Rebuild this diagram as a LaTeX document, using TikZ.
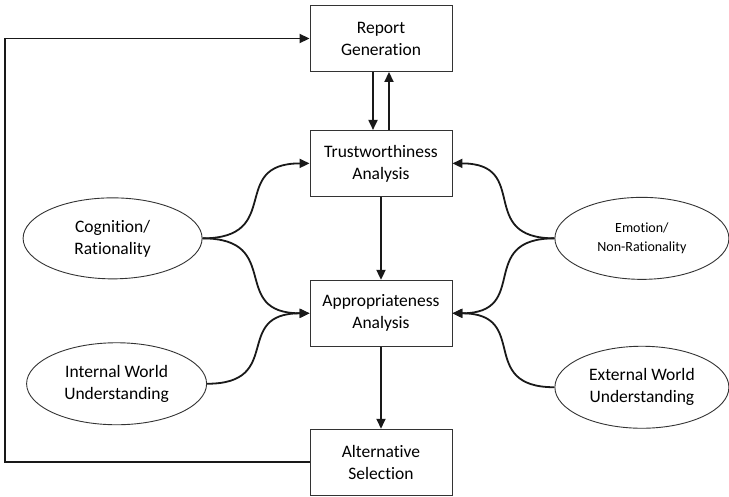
\documentclass[tikz,border=0pt]{standalone}
\usepackage{fontspec}
\setmainfont{Carlito}[Ligatures=NoCommon]
\usetikzlibrary{arrows.meta,positioning,shapes.geometric,calc}
\tikzset{
  stage/.style={draw=black!80,line width=0.9pt,minimum width=142pt,minimum height=66pt,
    align=center,inner sep=2pt,font=\fontsize{17.5}{22}\selectfont},
  factor/.style={ellipse,draw=black!80,line width=0.9pt,inner sep=0pt,align=center,
    font=\fontsize{17.5}{22}\selectfont},
  flow/.style={-{Triangle[length=10pt,width=9pt]},line width=1.8pt,draw=black!90},
  sbendL/.style={out=0,in=180,looseness=1.6},
  sbendR/.style={out=180,in=0,looseness=1.6}
}

\begin{document}
\begin{tikzpicture}[x=1pt,y=-1pt]
  \useasboundingbox (0,0) rectangle (729,496);
  % main column
  \node[stage] (report) at (381,38.5) {Report\\Generation};
  \node[stage, below=58pt of report] (trust) {Trustworthiness\\Analysis};
  \node[stage, below=83pt of trust] (approp) {Appropriateness\\Analysis};
  \node[stage, below=82pt of approp] (alt) {Alternative\\Selection};
  % side factors
  \coordinate (midL) at ($(trust.west)!0.5!(approp.west)$);
  \coordinate (midR) at ($(trust.east)!0.5!(approp.east)$);
  \node[factor, minimum width=179pt, minimum height=81pt, left=107pt of midL] (cog) {Cognition/\\Rationality};
  \node[factor, minimum width=180pt, minimum height=82pt, below=63pt of cog, xshift=4pt] (internal) {Internal World\\Understanding};
  \node[factor, font=\fontsize{14}{19}\selectfont, minimum width=174pt, minimum height=82pt, right=102pt of midR] (emotion) {Emotion/\\Non-Rationality};
  \node[factor, minimum width=174pt, minimum height=82pt, below=66pt of emotion] (external) {External World\\Understanding};
  \coordinate (loop) at (5,0);
  \draw[flow] ([xshift=-8pt]report.south) -- ([xshift=-8pt]trust.north);
  \draw[flow] ([xshift=8pt]trust.north) -- ([xshift=8pt]report.south);
  \draw[flow] (trust) -- (approp);
  \draw[flow] (approp) -- (alt);
  \draw[flow] (cog.east) to[sbendL] (trust.west);
  \draw[flow] (cog.east) to[sbendL] (approp.west);
  \draw[flow] (internal.east) to[sbendL] (approp.west);
  \draw[flow] (emotion.west) to[sbendR] (trust.east);
  \draw[flow] (emotion.west) to[sbendR] (approp.east);
  \draw[flow] (external.west) to[sbendR] (approp.east);
  \draw[flow] (alt.west) -- (alt.west -| loop) |- (report.west);
\end{tikzpicture}
\end{document}
